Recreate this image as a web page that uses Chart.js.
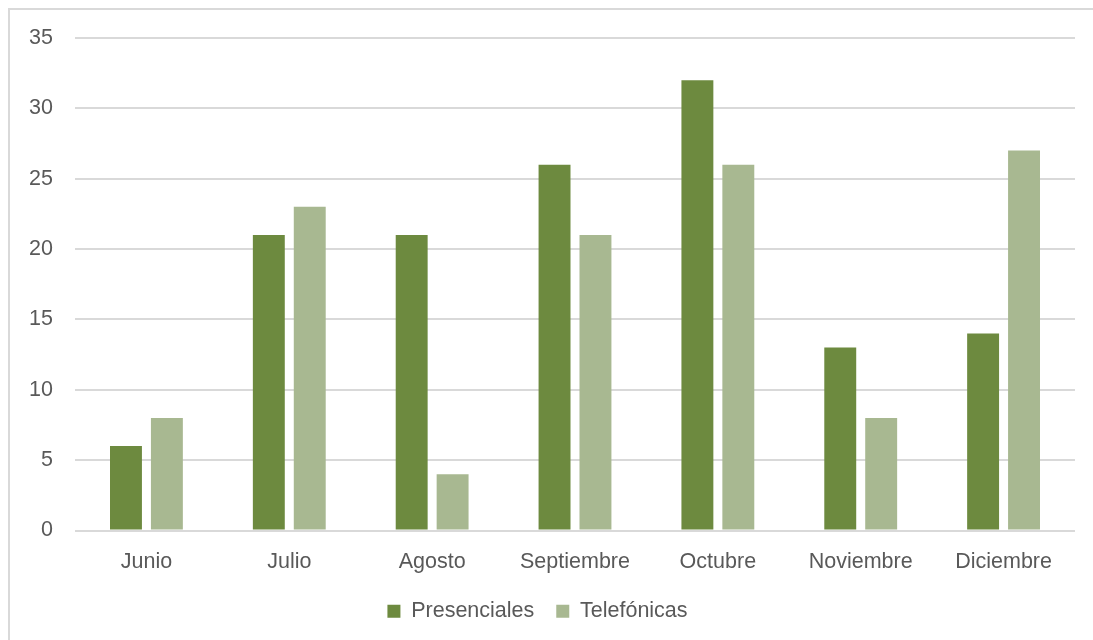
<!DOCTYPE html>
<html>
<head>
<meta charset="utf-8">
<script src="https://cdn.jsdelivr.net/npm/chart.js@4"></script>
<style>
html,body{margin:0;padding:0;background:#fff;overflow:hidden;}
#frame{position:absolute;left:8px;top:8px;width:1200px;height:800px;border:2px solid #d9d9d9;box-sizing:border-box;}
#wrap{position:absolute;left:0;top:0;width:1093px;height:640px;}
</style>
</head>
<body>
<div id="frame"></div>
<div id="wrap"><canvas id="c"></canvas></div>
<script>
const categories = ["Junio","Julio","Agosto","Septiembre","Octubre","Noviembre","Diciembre"];
const presenciales = [6,21,21,26,32,13,14];
const telefonicas = [8,23,4,21,26,8,27];
const seriesNames = ["Presenciales","Telefónicas"];
const seriesColors = ["#6d8a3f","#a8b891"];

const font = {family:"'Liberation Sans', Arial, sans-serif", size:21.5};
Chart.defaults.color = "#595959";

new Chart(document.getElementById('c'), {
  type:'bar',
  data:{
    labels:categories,
    datasets:[
      {label:seriesNames[0], data:presenciales, backgroundColor:seriesColors[0], categoryPercentage:0.573, barPercentage:0.78},
      {label:seriesNames[1], data:telefonicas, backgroundColor:seriesColors[1], categoryPercentage:0.573, barPercentage:0.78}
    ]
  },
  options:{
    responsive:true,
    maintainAspectRatio:false,
    animation:false,
    layout:{padding:{left:0,right:18,top:38,bottom:8}},
    plugins:{
      tooltip:{enabled:false},
      legend:{
        position:'bottom',
        labels:{font:font, boxWidth:13, boxHeight:13, padding:22, color:'#595959'}
      }
    },
    scales:{
      x:{
        grid:{display:false},
        border:{display:false},
        ticks:{font:font, padding:11, color:'#595959'},
        afterFit:(s)=>{s.height=48;}
      },
      y:{
        min:0,max:35,
        grid:{color:'#d9d9d9', lineWidth:2, drawTicks:false},
        border:{display:false},
        ticks:{stepSize:5, font:font, padding:22, color:'#595959'},
        afterFit:(s)=>{s.width=75;}
      }
    }
  }
});
</script>
</body>
</html>
